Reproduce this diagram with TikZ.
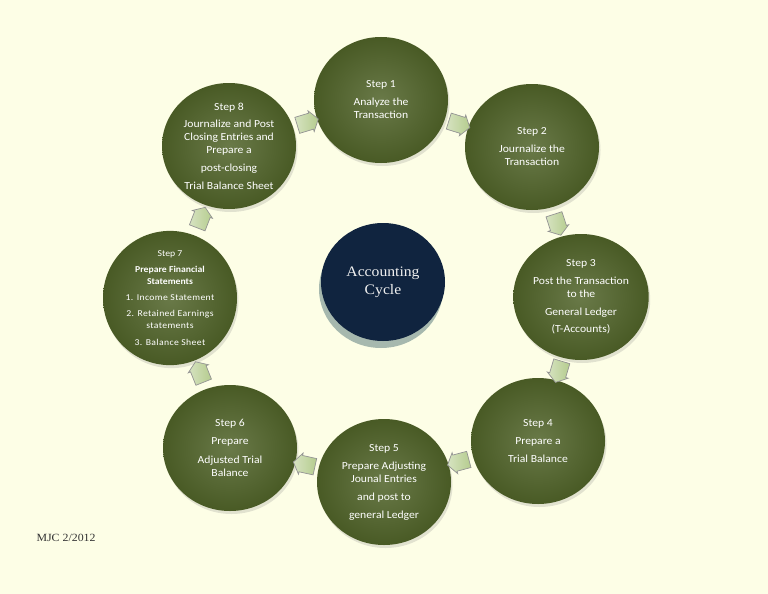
\documentclass[tikz,border=0pt]{standalone}
\usepackage{fontspec}
\setmainfont[FakeStretch=1.08]{Carlito}
\newfontfamily\timesfont[FakeStretch=1.08]{Liberation Serif}
\usetikzlibrary{shapes.arrows,shapes.geometric,shadows}
\definecolor{stepgreen}{HTML}{4F6228}
\definecolor{cyclenavy}{HTML}{10243F}
\definecolor{paleback}{HTML}{FDFEE6}
\definecolor{arrowgreen}{HTML}{B5CC8E}

\tikzset{
  stepcircle/.style={ellipse, minimum width=134pt, minimum height=126pt, inner sep=0pt,
    inner color=stepgreen!85!white, outer color=stepgreen!92!black,
    text=white, align=center, font=\fontsize{10.8}{13}\selectfont,
    drop shadow={opacity=0.22, shadow xshift=1.5pt, shadow yshift=-3pt}},
  cyclearrow/.style={single arrow, minimum height=22pt, inner xsep=2pt, inner ysep=8pt,
    single arrow head extend=2.5pt, single arrow tip angle=110,
    left color=arrowgreen!55!white, right color=arrowgreen,
    draw=gray!85, line width=0.7pt, sloped, allow upside down}
}

\begin{document}
\begin{tikzpicture}[x=1pt,y=-1pt]
  \fill[paleback] (0,0) rectangle (768,594);
  \useasboundingbox (0,0) rectangle (768,594);

  % hub
  \node[ellipse, minimum width=124pt, minimum height=118pt, fill=cyclenavy, text=white!88!gray,
    align=center, font=\timesfont\fontsize{14.5}{18}\selectfont,
    drop shadow={fill=gray!75!teal, opacity=0.55, shadow xshift=-2pt, shadow yshift=-7pt}]
    (hub) at (383,282) {Accounting\\Cycle};

  % the eight steps
  \node[stepcircle] (s1) at (381,100) {Step 1\\[5pt]Analyze the\\Transaction};
  \node[stepcircle] (s2) at (532,147) {Step 2\\[5pt]Journalize the\\Transaction};
  \node[stepcircle] (s3) at (581,297) {Step 3\\[5pt]Post the Transaction\\to the\\[5pt]General Ledger\\[4pt](T-Accounts)};
  \node[stepcircle] (s4) at (538,441) {Step 4\\[5pt]Prepare a\\[5pt]Trial Balance};
  \node[stepcircle] (s5) at (384,482) {Step 5\\[5pt]Prepare Adjusting\\Jounal Entries\\[5pt]and post to\\[5pt]general Ledger};
  \node[stepcircle] (s6) at (230,448) {Step 6\\[5pt]Prepare\\[6pt]Adjusted Trial\\Balance};
  \node[stepcircle, font=\fontsize{9}{12}\selectfont] (s7) at (170,298)
    {Step 7\\[4pt]\textbf{Prepare Financial}\\\textbf{Statements}\\[4pt]%
     {\addfontfeature{LetterSpace=4}1. Income Statement}\\[4pt]%
     {\addfontfeature{LetterSpace=4}2. Retained Earnings}\\%
     {\addfontfeature{LetterSpace=4}statements}\\[5pt]%
     {\addfontfeature{LetterSpace=4}3. Balance Sheet}};
  \node[stepcircle] (s8) at (229,146) {Step 8\\[4pt]Journalize and Post\\Closing Entries and\\Prepare a\\[5pt]post-closing\\[5pt]Trial Balance Sheet};

  % arrows between neighbours
  \foreach \a/\b in {s1/s2,s2/s3,s3/s4,s4/s5,s5/s6,s6/s7,s7/s8,s8/s1}
    \path (\a) -- node[cyclearrow] (\a-\b) {} (\b);

  \node[anchor=west, font=\timesfont\fontsize{11}{13}\selectfont, text=black!80]
    (mark) at (33,538) {MJC 2/2012};
\end{tikzpicture}
\end{document}
